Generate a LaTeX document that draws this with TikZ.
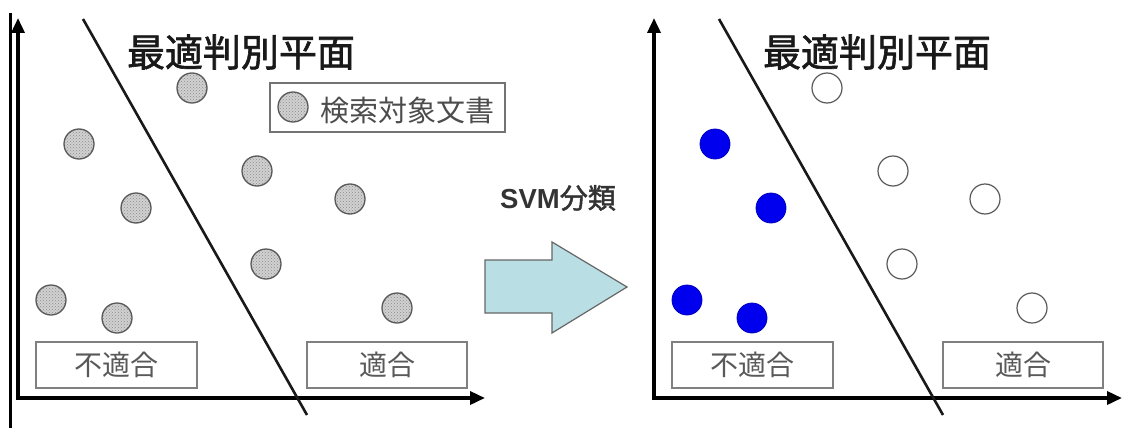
\documentclass[tikz,border=0pt]{standalone}
\usepackage{fontspec}
\newfontfamily\cjk{Noto Sans CJK JP}
\newfontfamily\cjkb{Noto Sans CJK JP}[FakeBold=1.6]
\newfontfamily\arialb{Liberation Sans Bold}
\usetikzlibrary{arrows.meta,patterns}
\definecolor{arrowfill}{HTML}{B9DFE4}
\definecolor{docblue}{HTML}{0000EE}
\tikzset{
  doc/.style={circle,minimum size=30pt,inner sep=0pt,draw=black!65,line width=1.3pt,
    preaction={fill=black!18},pattern=crosshatch dots,pattern color=black!45},
  hollow/.style={circle,minimum size=30pt,inner sep=0pt,draw=black!65,line width=1.2pt,fill=white},
  bluedoc/.style={circle,minimum size=30pt,inner sep=0pt,draw=docblue!80!black,line width=0.8pt,fill=docblue},
  labelbox/.style={draw=black!50,line width=1.6pt,minimum width=161pt,minimum height=46pt,inner sep=0pt,
    font=\cjk\fontsize{28}{30}\selectfont,text=black!65},
  titletext/.style={font=\cjkb\fontsize{38}{40}\selectfont,text=black!90,inner sep=0pt},
  axis/.style={line width=3.5pt,{Triangle[length=15pt,width=13pt]}-{Triangle[length=15pt,width=13pt]}},
  sep/.style={line width=2.6pt,black!90}
}
\begin{document}
\begin{tikzpicture}[x=1pt,y=-1pt]
\useasboundingbox (0,0) rectangle (1131,428);
% left border line
\coordinate (b1) at (10,13); \coordinate (b2) at (10,428);
\draw[line width=3pt] (b1) -- (b2);
% ---------- left panel ----------
\coordinate (ly) at (18,18); \coordinate (lo) at (18,398); \coordinate (lx) at (485,398);
\draw[axis] (ly) -- (lo) -- (lx);
\coordinate (la) at (83,19); \coordinate (lb) at (307,415);
\draw[sep] (la) -- (lb);
\node[titletext] (lt) at (241,52) {最適判別平面};
\node[draw=black!55,line width=1.6pt,minimum width=235pt,minimum height=49pt,inner sep=0pt] (leg) at (387.5,107.5) {};
\node[doc] (legc) at (293,107) {};
\node[font=\cjk\fontsize{29}{31}\selectfont,text=black!70,inner sep=0pt] (legt) at (407.5,110) {検索対象文書};
\node[doc] (l1) at (192,88) {};
\node[doc] (l2) at (79,144) {};
\node[doc] (l3) at (257,171) {};
\node[doc] (l4) at (350,199) {};
\node[doc] (l5) at (136,208) {};
\node[doc] (l6) at (266,264) {};
\node[doc] (l7) at (51,300) {};
\node[doc] (l8) at (117,318) {};
\node[doc] (l9) at (397,308) {};
\node[labelbox] (lneg) at (116.5,365) {不適合};
\node[labelbox,minimum width=160pt] (lpos) at (387,365) {適合};
% ---------- middle arrow ----------
\node[text=black!80,inner sep=0pt] (svm) at (558,198) {{\arialb\fontsize{27.5}{29}\selectfont SVM}{\cjkb\fontsize{28}{29}\selectfont 分類}};
\draw[fill=arrowfill,draw=black!60,line width=1.2pt]
  (485,260) -- (552,260) -- (552,242) -- (627,287) -- (552,333) -- (552,313) -- (485,313) -- cycle;
% ---------- right panel ----------
\coordinate (ry) at (654,18); \coordinate (ro) at (654,398); \coordinate (rx) at (1122,398);
\draw[axis] (ry) -- (ro) -- (rx);
\coordinate (ra) at (719,19); \coordinate (rb) at (943,415);
\draw[sep] (ra) -- (rb);
\node[titletext] (rt) at (877,52) {最適判別平面};
\node[hollow] (r1) at (827,88) {};
\node[bluedoc] (r2) at (715,144) {};
\node[hollow] (r3) at (893,171) {};
\node[hollow] (r4) at (985,199) {};
\node[bluedoc] (r5) at (771,208) {};
\node[hollow] (r6) at (902,264) {};
\node[bluedoc] (r7) at (687,300) {};
\node[bluedoc] (r8) at (752,318) {};
\node[hollow] (r9) at (1032,308) {};
\node[labelbox] (rneg) at (752.5,365) {不適合};
\node[labelbox,minimum width=160pt] (rpos) at (1023,365) {適合};
\end{tikzpicture}
\end{document}
